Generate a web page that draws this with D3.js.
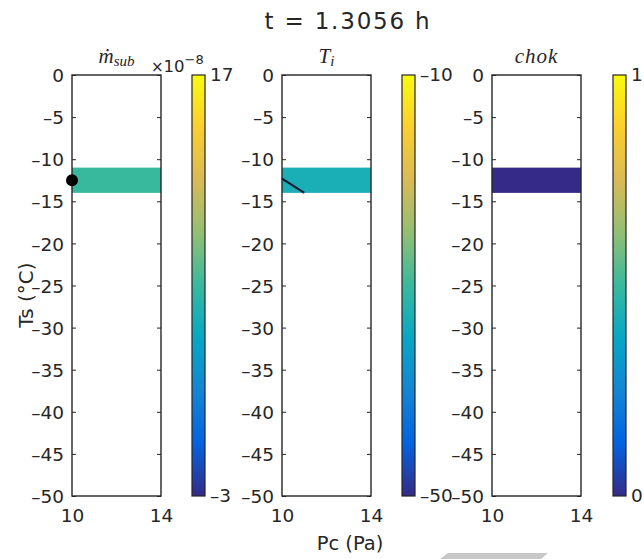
<!DOCTYPE html>
<html>
<head>
<meta charset="utf-8">
<script src="https://cdn.jsdelivr.net/npm/d3@7"></script>
<style>
  body{margin:0;background:#fff;}
  text{font-family:"DejaVu Sans",sans-serif;fill:#262626;}
  .sub{font-family:"Liberation Serif",serif;font-style:italic;}
</style>
</head>
<body>
<div id="chart"></div>
<script>
// data
const titleText = "t = 1.3056 h";
const pcRange = [10, 14];            // x extent (Pa)
const tsRange = [-50, 0];            // y extent (°C)
const tsTicks = d3.range(0, -51, -5);
const pcTicks = [10, 14];
const bandTs = [-11, -14];           // occupied Ts band
const bandPc = [10, 14];
const panelNames = ["msub", "Ti", "chok"];
const bandValues = [7, -33, 0];      // msub in 1e-8 units
const cbarDomains = [[-3, 17], [-50, -10], [0, 1]];
const dotPoint = [10, -12.5];        // marker in first panel
const tiLine = [[10, -12.3], [11, -14]];

// parula-like colormap stops
const parula = ["#352a87","#0363e1","#1485d4","#06a7c6","#38b99e","#92bf73","#d9ba56","#fcce2e","#f9fb0e"];
const cmap = d3.scaleLinear().domain(d3.range(parula.length).map(i => i/(parula.length-1))).range(parula);

const W = 644, H = 559, TOP = 75, BOT = 496, FS = "18.5px";
const panels = [
  {l:72,  r:161, cl:192, cr:205},
  {l:282, r:371, cl:402, cr:415},
  {l:492, r:581, cl:613, cr:626}
];

const svg = d3.select("#chart").append("svg").attr("width", W).attr("height", H);
const y = d3.scaleLinear().domain(tsRange).range([BOT, TOP]);
const fmt = d => (d < 0 ? "\u2013" : "") + Math.abs(d);

const grad = svg.append("defs").append("linearGradient").attr("id","parula")
  .attr("x1",0).attr("y1",1).attr("x2",0).attr("y2",0);
parula.forEach((c,i) => grad.append("stop").attr("offset", i/(parula.length-1)).attr("stop-color", c));

panels.forEach((p, k) => {
  const x = d3.scaleLinear().domain(pcRange).range([p.l, p.r]);
  const g = svg.append("g");
  const dom = cbarDomains[k];
  const t = (bandValues[k]-dom[0])/(dom[1]-dom[0]);

  g.append("rect")
    .attr("x", x(bandPc[0])).attr("width", x(bandPc[1])-x(bandPc[0]))
    .attr("y", y(bandTs[0])).attr("height", y(bandTs[1])-y(bandTs[0]))
    .attr("fill", cmap(t));

  // left axis with labels, ticks inward
  const ax = g.append("g").attr("transform",`translate(${p.l},0)`)
    .call(d3.axisLeft(y).tickValues(tsTicks).tickSize(-4).tickPadding(8).tickFormat(fmt));
  ax.selectAll("text").style("font-size",FS).attr("dy","0.36em");
  ax.select(".domain").remove();
  const axr = g.append("g").attr("transform",`translate(${p.r},0)`)
    .call(d3.axisRight(y).tickValues(tsTicks).tickSize(-4).tickFormat(""));
  axr.select(".domain").remove();
  [ax, axr].forEach(a => a.selectAll("line").attr("stroke","#262626"));

  const axb = g.append("g").attr("transform",`translate(0,${BOT})`)
    .call(d3.axisBottom(x).tickValues(pcTicks).tickSize(0).tickPadding(13).tickFormat(fmt));
  axb.selectAll("text").style("font-size",FS);
  axb.select(".domain").remove();

  g.append("rect").attr("x",p.l).attr("y",TOP).attr("width",p.r-p.l).attr("height",BOT-TOP)
    .attr("fill","none").attr("stroke","#262626").attr("stroke-width",1.4);

  // colorbar
  const cy = d3.scaleLinear().domain(dom).range([BOT, TOP]);
  g.append("rect").attr("x",p.cl).attr("y",TOP).attr("width",p.cr-p.cl).attr("height",BOT-TOP)
    .attr("fill","url(#parula)").attr("stroke","#262626").attr("stroke-width",1.2);
  const cax = g.append("g").attr("transform",`translate(${p.cr},0)`)
    .call(d3.axisRight(cy).tickValues(dom).tickSize(0).tickPadding(5).tickFormat(fmt));
  cax.selectAll("text").style("font-size",FS);
  cax.select(".domain").remove();

  // subplot title
  const tt = g.append("text").attr("class","sub").attr("x",(p.l+p.r)/2 + (k===1 ? 0 : 0)).attr("y",63)
    .attr("text-anchor","middle").style("font-size","21px");
  if (panelNames[k] === "msub") {
    tt.append("tspan").text("ṁ");
    tt.append("tspan").attr("dy",3).style("font-size","15px").text("sub");
  } else if (panelNames[k] === "Ti") {
    tt.append("tspan").text("T");
    tt.append("tspan").attr("dy",3).style("font-size","15px").text("i");
  } else {
    tt.style("letter-spacing","1px").text("chok");
  }

  if (k === 0) {
    const ex = g.append("text").attr("x",151).attr("y",72).style("font-size","16.5px");
    ex.append("tspan").style("font-size","15px").text("×");
    ex.append("tspan").text("10");
    ex.append("tspan").attr("dy",-8).style("font-size","13px").text("\u22128");
    g.append("circle").attr("cx",x(dotPoint[0])).attr("cy",y(dotPoint[1])).attr("r",6).attr("fill","#000");
  }
  if (k === 1) {
    g.append("path").datum(tiLine)
      .attr("d", d3.line().x(d => x(d[0])).y(d => y(d[1])))
      .attr("stroke","#0b1733").attr("stroke-width",2).attr("fill","none");
  }
});

svg.append("text").attr("x",348).attr("y",29).attr("text-anchor","middle")
  .style("font-size","23px").style("letter-spacing","1.8px").attr("fill","#000").text(titleText);
svg.append("text").attr("transform","translate(33,295) rotate(-90)").attr("text-anchor","middle")
  .style("font-size","20px").text("Ts (°C)");
svg.append("text").attr("x",350).attr("y",550).attr("text-anchor","middle")
  .style("font-size","19.5px").text("Pc (Pa)");

// grey strip at the lower edge
svg.append("polygon").attr("points","448,553 548,553 541,559 440,559").attr("fill","#c8c8c8");
</script>
</body>
</html>
